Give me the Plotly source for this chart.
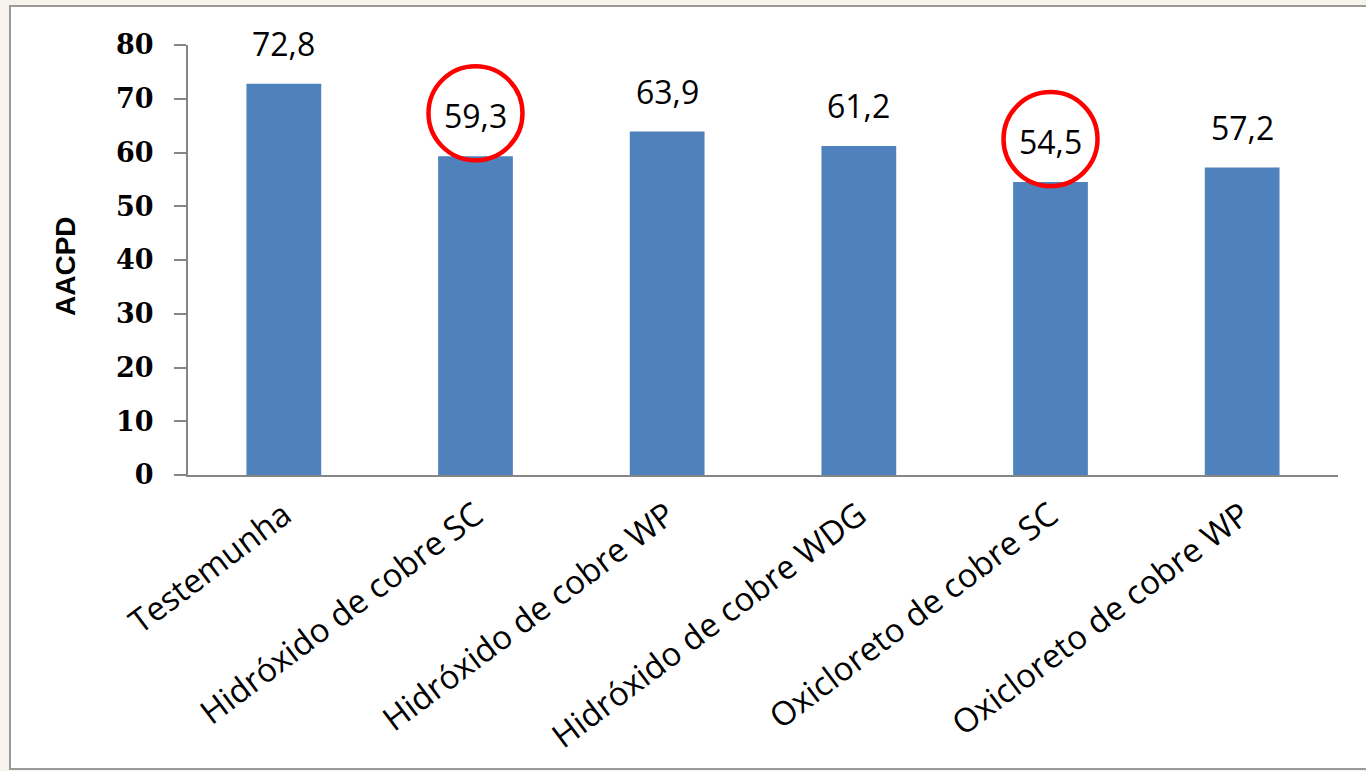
import plotly.graph_objects as go

# ---- data ----
categories = ["Testemunha", "Hidróxido de cobre SC", "Hidróxido de cobre WP",
              "Hidróxido de cobre WDG", "Oxicloreto de cobre SC", "Oxicloreto de cobre WP"]
values = [72.8, 59.3, 63.9, 61.2, 54.5, 57.2]
value_labels = ["72,8", "59,3", "63,9", "61,2", "54,5", "57,2"]
highlighted = ["Hidróxido de cobre SC", "Oxicloreto de cobre SC"]
y_ticks = [0, 10, 20, 30, 40, 50, 60, 70, 80]
y_title = "AACPD"

# ---- layout geometry (pixels) ----
W, H = 1366, 771
PL, PR, PT, PB = 188, 1338, 45, 475   # plot area edges
pw, ph = PR - PL, PB - PT


def fx(px):
    return (px - PL) / pw


def fy(py):
    return (PB - py) / ph


BAR = "#4F81BD"
AX = "#868686"

fig = go.Figure()
fig.add_trace(go.Bar(x=categories, y=values, marker=dict(color=BAR, line=dict(width=0)),
                     hoverinfo="x+y"))

annotations = []
for c, v, t in zip(categories, values, value_labels):
    annotations.append(dict(x=c, y=v, xref="x", yref="y", text=t, showarrow=False,
                            yanchor="bottom", xanchor="center", yshift=17,
                            font=dict(family="Open Sans", size=32, color="#000000")))

annotations.append(dict(x=fx(65), y=fy(266), xref="paper", yref="paper",
                        text="<b>" + y_title + "</b>",
                        textangle=-90, showarrow=False, xanchor="center", yanchor="middle",
                        font=dict(family="Liberation Sans", size=28, color="#000000")))

shapes = [
    # outer frame (white panel with grey border)
    dict(type="rect", xref="paper", yref="paper", x0=fx(10), x1=fx(1372), y0=fy(769), y1=fy(6),
         fillcolor="white", line=dict(color="#9a9a9a", width=2), layer="below"),
]
for c in highlighted:
    i = categories.index(c)
    shapes.append(dict(type="circle", xref="x", yref="y", xsizemode="pixel", ysizemode="pixel",
                       xanchor=i, yanchor=values[i], x0=-47, x1=47, y0=-4, y1=90,
                       line=dict(color="#FF0000", width=4.5), fillcolor="rgba(0,0,0,0)",
                       layer="above"))

fig.update_layout(
    width=W, height=H,
    margin=dict(l=PL, r=W - PR, t=PT, b=H - PB, pad=0),
    paper_bgcolor="#F6F2EC",
    plot_bgcolor="rgba(0,0,0,0)",
    bargap=0.61,
    showlegend=False,
    annotations=annotations,
    shapes=shapes,
    xaxis=dict(type="category", showline=True, linecolor=AX, linewidth=2, ticks="outside",
               ticklen=6, tickcolor="rgba(0,0,0,0)",
               tickangle=-37, showgrid=False, zeroline=False,
               tickfont=dict(family="Open Sans", size=33, color="#000000")),
    yaxis=dict(range=[0, 80], tickvals=y_ticks, showline=True, linecolor=AX, linewidth=2,
               ticks="outside", ticklen=12, tickcolor=AX, tickwidth=2, showgrid=False,
               zeroline=False, ticklabelstandoff=15,
               tickfont=dict(family="DejaVu Serif", size=27, color="#000000", weight="bold")),
)

fig.write_html("out.html")
